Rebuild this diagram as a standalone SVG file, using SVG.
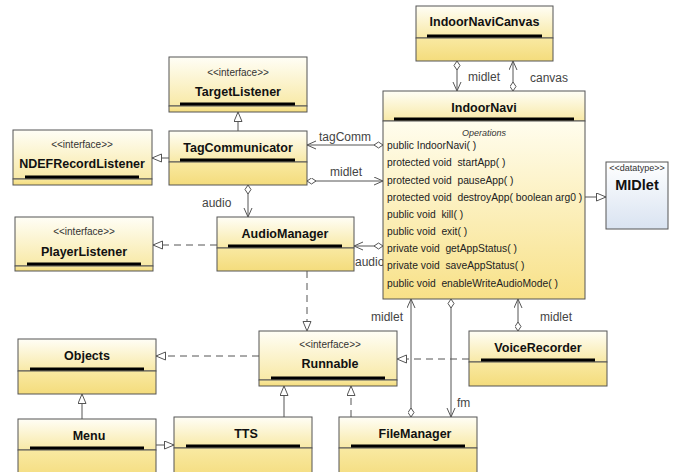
<svg xmlns="http://www.w3.org/2000/svg" width="678" height="472" viewBox="0 0 678 472">
<style>
.box{stroke:#555;stroke-width:1}
.hdr{fill:url(#gh)}
.bdy{fill:url(#gb)}
.ul{stroke:#000;stroke-width:3}
.sep{stroke:#555;stroke-width:1}
.ttl{font-family:"Liberation Sans",Arial,sans-serif;font-size:12.5px;font-weight:bold;fill:#111;text-anchor:middle}
.st{font-family:"Liberation Sans",Arial,sans-serif;font-size:10px;fill:#333;text-anchor:middle}
.op{font-family:"Liberation Sans",Arial,sans-serif;font-size:10.3px;fill:#222;white-space:pre}
.lbl{font-family:"Liberation Sans",Arial,sans-serif;font-size:12px;fill:#444}
.c{fill:none;stroke:#555;stroke-width:1}
.d{stroke-dasharray:7,5}
</style>
<defs>
<linearGradient id="gh" x1="0" y1="0" x2="0" y2="1"><stop offset="0" stop-color="#fffef6"/><stop offset="1" stop-color="#f8e9a6"/></linearGradient>
<linearGradient id="gb" x1="0" y1="0" x2="0" y2="1"><stop offset="0" stop-color="#f9e9a2"/><stop offset="1" stop-color="#f4dc7c"/></linearGradient>
<linearGradient id="go" x1="0" y1="0" x2="0" y2="1"><stop offset="0" stop-color="#fffdee"/><stop offset="1" stop-color="#f8e188"/></linearGradient>
<linearGradient id="gm" x1="0" y1="0" x2="0" y2="1"><stop offset="0" stop-color="#ffffff"/><stop offset="1" stop-color="#d9e3f1"/></linearGradient>
<marker id="dia" markerUnits="userSpaceOnUse" markerWidth="12" markerHeight="8" refX="0" refY="3.5" orient="auto"><path d="M0,3.5 L4.5,0.5 L9,3.5 L4.5,6.5 z" fill="#fff" stroke="#555" stroke-width="1"/></marker>
<marker id="arr" markerUnits="userSpaceOnUse" markerWidth="12" markerHeight="10" refX="9" refY="4.5" orient="auto"><path d="M0,0.5 L9,4.5 L0,8.5" fill="none" stroke="#555" stroke-width="1"/></marker>
<marker id="tri" markerUnits="userSpaceOnUse" markerWidth="12" markerHeight="10" refX="10" refY="4.5" orient="auto"><path d="M0.5,0.5 L10,4.5 L0.5,8.5 z" fill="#fff" stroke="#555" stroke-width="1"/></marker>
</defs>
<rect width="678" height="472" fill="#fff"/>

<g id="connectors">
<path class="c" d="M457,61 L457,91" marker-start="url(#dia)" marker-end="url(#arr)"/>
<path class="c" d="M513,91 L513,61" marker-start="url(#dia)" marker-end="url(#arr)"/>
<path class="c" d="M585,197 L606,197" marker-end="url(#tri)"/>
<path class="c" d="M238,131 L238,112" marker-end="url(#tri)"/>
<path class="c" d="M169,158 L152,158" marker-end="url(#tri)"/>
<path class="c" d="M383,145 L307,145" marker-start="url(#dia)" marker-end="url(#arr)"/>
<path class="c" d="M307,181 L383,181" marker-start="url(#dia)" marker-end="url(#arr)"/>
<path class="c" d="M383,246 L354,246" marker-start="url(#dia)" marker-end="url(#arr)"/>
<path class="c" d="M248,185 L248,217" marker-start="url(#dia)" marker-end="url(#arr)"/>
<path class="c d" d="M217,245 L153,245" marker-end="url(#tri)"/>
<path class="c d" d="M307,271 L307,331" marker-end="url(#tri)"/>
<path class="c d" d="M259,356 L156,356" marker-end="url(#tri)"/>
<path class="c" d="M82,419 L82,394" marker-end="url(#tri)"/>
<path class="c" d="M156,445 L174,445" marker-end="url(#tri)"/>
<path class="c" d="M284,417 L284,386" marker-end="url(#tri)"/>
<path class="c d" d="M351,417 L351,386" marker-end="url(#tri)"/>
<path class="c d" d="M469,359 L397,359" marker-end="url(#tri)"/>
<path class="c" d="M518,331 L518,299" marker-start="url(#dia)" marker-end="url(#arr)"/>
<path class="c" d="M411,417 L411,299" marker-start="url(#dia)" marker-end="url(#arr)"/>
<path class="c" d="M451,299 L451,417" marker-start="url(#dia)" marker-end="url(#arr)"/>
<text class="lbl" x="468" y="81">midlet</text>
<text class="lbl" x="530" y="82">canvas</text>
<text class="lbl" x="319" y="141">tagComm</text>
<text class="lbl" x="330" y="176">midlet</text>
<text class="lbl" x="355" y="266">audio</text>
<text class="lbl" x="202" y="207">audio</text>
<text class="lbl" x="371" y="321">midlet</text>
<text class="lbl" x="540" y="321">midlet</text>
<text class="lbl" x="457" y="407">fm</text>
</g>

<g id="IndoorNaviCanvas">
<rect class="box hdr" x="416" y="6" width="137" height="32"/>
<rect class="box bdy" x="416" y="38" width="137" height="23"/>
<line class="ul" x1="427" y1="36" x2="542" y2="36"/>
<text class="ttl" x="484.5" y="26">IndoorNaviCanvas</text>
</g>

<g id="IndoorNavi">
<rect class="box hdr" x="383" y="91" width="202" height="30"/>
<rect class="box" x="383" y="121" width="202" height="178" fill="url(#go)"/>
<line class="ul" x1="394" y1="119" x2="574" y2="119"/>
<text class="ttl" x="484" y="112">IndoorNavi</text>
<text x="484" y="136" style="font-family:'Liberation Sans',Arial,sans-serif;font-size:9px;font-style:italic;fill:#333;text-anchor:middle">Operations</text>
<text class="op" x="387" y="149">public IndoorNavi( )</text>
<text class="op" x="387" y="166">protected void  startApp( )</text>
<text class="op" x="387" y="184">protected void  pauseApp( )</text>
<text class="op" x="387" y="201">protected void  destroyApp( boolean arg0 )</text>
<text class="op" x="387" y="218">public void  kill( )</text>
<text class="op" x="387" y="235">public void  exit( )</text>
<text class="op" x="387" y="252">private void  getAppStatus( )</text>
<text class="op" x="387" y="269">private void  saveAppStatus( )</text>
<text class="op" x="387" y="287">public void  enableWriteAudioMode( )</text>
</g>

<g id="MIDlet">
<rect class="box" x="606" y="162" width="62" height="67" fill="url(#gm)" stroke="#777"/>
<text class="st" x="637" y="171" style="font-size:9px">&lt;&lt;datatype&gt;&gt;</text>
<text class="ttl" x="637" y="190" style="font-size:14.5px">MIDlet</text>
</g>

<g id="TargetListener">
<rect class="box hdr" x="169" y="57" width="138" height="49"/>
<rect class="box bdy" x="169" y="106" width="138" height="6"/>
<line class="ul" x1="180" y1="104" x2="295" y2="104"/>
<text class="st" x="238" y="76">&lt;&lt;interface&gt;&gt;</text>
<text class="ttl" x="238" y="96">TargetListener</text>
</g>

<g id="TagCommunicator">
<rect class="box hdr" x="169" y="131" width="138" height="31"/>
<rect class="box bdy" x="169" y="162" width="138" height="23"/>
<line class="ul" x1="180" y1="160" x2="295" y2="160"/>
<text class="ttl" x="238" y="152">TagCommunicator</text>
</g>

<g id="NDEFRecordListener">
<rect class="box hdr" x="13" y="130" width="139" height="49"/>
<rect class="box bdy" x="13" y="179" width="139" height="6"/>
<line class="ul" x1="25" y1="177" x2="139" y2="177"/>
<text class="st" x="82" y="148">&lt;&lt;interface&gt;&gt;</text>
<text class="ttl" x="82" y="168">NDEFRecordListener</text>
</g>

<g id="AudioManager">
<rect class="box hdr" x="217" y="217" width="137" height="31"/>
<rect class="box bdy" x="217" y="248" width="137" height="23"/>
<line class="ul" x1="228" y1="246" x2="342" y2="246"/>
<text class="ttl" x="285" y="238">AudioManager</text>
</g>

<g id="PlayerListener">
<rect class="box hdr" x="15" y="217" width="138" height="49"/>
<rect class="box bdy" x="15" y="266" width="138" height="5"/>
<line class="ul" x1="27" y1="264" x2="141" y2="264"/>
<text class="st" x="84" y="235">&lt;&lt;interface&gt;&gt;</text>
<text class="ttl" x="84" y="256">PlayerListener</text>
</g>

<g id="Runnable">
<rect class="box hdr" x="259" y="331" width="138" height="49"/>
<rect class="box bdy" x="259" y="380" width="138" height="6"/>
<line class="ul" x1="271" y1="378" x2="385" y2="378"/>
<text class="st" x="330" y="348">&lt;&lt;interface&gt;&gt;</text>
<text class="ttl" x="330" y="368">Runnable</text>
</g>

<g id="Objects">
<rect class="box hdr" x="18" y="339" width="138" height="32"/>
<rect class="box bdy" x="18" y="371" width="138" height="23"/>
<line class="ul" x1="30" y1="369" x2="144" y2="369"/>
<text class="ttl" x="87" y="360">Objects</text>
</g>

<g id="VoiceRecorder">
<rect class="box hdr" x="469" y="331" width="138" height="31"/>
<rect class="box bdy" x="469" y="362" width="138" height="24"/>
<line class="ul" x1="481" y1="360" x2="595" y2="360"/>
<text class="ttl" x="538" y="352">VoiceRecorder</text>
</g>

<g id="Menu">
<rect class="box hdr" x="18" y="419" width="138" height="31"/>
<rect class="box bdy" x="18" y="450" width="138" height="30"/>
<line class="ul" x1="30" y1="448" x2="144" y2="448"/>
<text class="ttl" x="89" y="440">Menu</text>
</g>

<g id="TTS">
<rect class="box hdr" x="174" y="417" width="138" height="31"/>
<rect class="box bdy" x="174" y="448" width="138" height="32"/>
<line class="ul" x1="186" y1="446" x2="300" y2="446"/>
<text class="ttl" x="246" y="438">TTS</text>
</g>

<g id="FileManager">
<rect class="box hdr" x="339" y="417" width="138" height="31"/>
<rect class="box bdy" x="339" y="448" width="138" height="32"/>
<line class="ul" x1="351" y1="446" x2="465" y2="446"/>
<text class="ttl" x="415" y="438">FileManager</text>
</g>
</svg>
